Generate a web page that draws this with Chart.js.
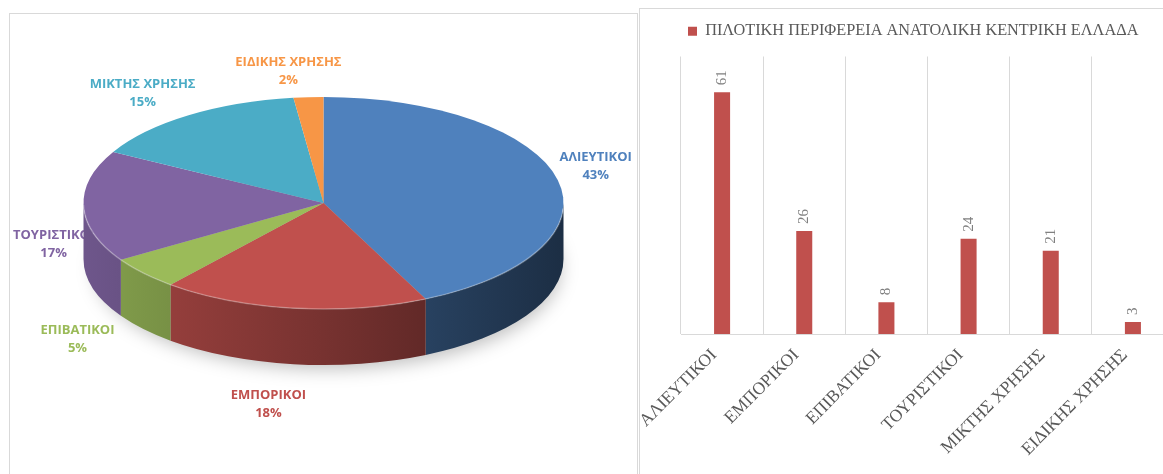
<!DOCTYPE html>
<html>
<head>
<meta charset="utf-8">
<script src="https://cdn.jsdelivr.net/npm/chart.js@4.4.1/dist/chart.umd.min.js"></script>
<style>
  html, body { margin: 0; padding: 0; background: #ffffff; overflow: hidden; }
  #stage { position: relative; width: 1163px; height: 474px; overflow: hidden; background: #ffffff; }
  #stage canvas { position: absolute; }
  .rule { position: absolute; background: #d9d9d9; }
</style>
</head>
<body>
<div id="stage">
  <canvas id="pieChart" width="629" height="460" style="left:9px; top:14px;"></canvas>
  <canvas id="barChart" width="545" height="465" style="left:640px; top:9px;"></canvas>
  <!-- panel frames -->
  <div class="rule" style="left:9px; top:13px; width:629px; height:1px;"></div>
  <div class="rule" style="left:9px; top:13px; width:1px; height:461px;"></div>
  <div class="rule" style="left:637px; top:13px; width:1px; height:461px;"></div>
  <div class="rule" style="left:639px; top:8px; width:524px; height:1px;"></div>
  <div class="rule" style="left:639px; top:8px; width:1px; height:466px;"></div>
</div>

<script>
// ---- data ----
const categories = ['ΑΛΙΕΥΤΙΚΟΙ', 'ΕΜΠΟΡΙΚΟΙ', 'ΕΠΙΒΑΤΙΚΟΙ', 'ΤΟΥΡΙΣΤΙΚΟΙ', 'ΜΙΚΤΗΣ ΧΡΗΣΗΣ', 'ΕΙΔΙΚΗΣ ΧΡΗΣΗΣ'];
const sharePercent = [43, 18, 5, 17, 15, 2];
const pilotRegionCounts = [61, 26, 8, 24, 21, 3];
const seriesName = 'ΠΙΛΟΤΙΚΗ ΠΕΡΙΦΕΡΕΙΑ ΑΝΑΤΟΛΙΚΗ ΚΕΝΤΡΙΚΗ ΕΛΛΑΔΑ';

// ---- styling ----
const sliceColors = ['#4f81bd', '#c0504d', '#9bbb59', '#8064a2', '#4bacc6', '#f79646'];
const barColor = '#c0504d';
const PIE = { rx: 240, ry: 106, depth: 56 };
// label block offsets from the rim point at each slice's mid angle
const pieLabelNudge = [[38, -14], [-25, 96], [-66, 66], [-30, 38], [-46, -22], [-20, -26]];

function shade(hex, f) {
  const n = parseInt(hex.slice(1), 16);
  const r = Math.round(((n >> 16) & 255) * f);
  const g = Math.round(((n >> 8) & 255) * f);
  const b = Math.round((n & 255) * f);
  return 'rgb(' + r + ',' + g + ',' + b + ')';
}

// Tilted pie: rim extrusion, floor shadow and outside labels drawn around the library's arcs.
const pie3d = {
  id: 'pie3d',
  beforeDatasetsDraw(chart) {
    const ctx = chart.ctx;
    const arcs = chart.getDatasetMeta(0).data;
    const { x, y, outerRadius } = arcs[0].getProps(['x', 'y', 'outerRadius'], true);
    const { rx, ry, depth } = PIE;

    // soft floor shadow
    ctx.save();
    ctx.filter = 'blur(9px)';
    ctx.fillStyle = 'rgba(0,0,0,0.26)';
    ctx.beginPath();
    ctx.ellipse(x + 4, y + depth + 9, rx * 0.97, ry * 0.95, 0, 0, Math.PI * 2);
    ctx.fill();
    ctx.restore();

    // outside labels (sit behind the pie body)
    ctx.save();
    ctx.font = 'bold 13px "Open Sans"';
    ctx.textAlign = 'center';
    ctx.textBaseline = 'middle';
    arcs.forEach((arc, i) => {
      const { startAngle, endAngle } = arc.getProps(['startAngle', 'endAngle'], true);
      const mid = (startAngle + endAngle) / 2;
      const lx = x + rx * Math.cos(mid) + pieLabelNudge[i][0];
      const ly = y + ry * Math.sin(mid) + pieLabelNudge[i][1];
      ctx.fillStyle = sliceColors[i];
      ctx.fillText(chart.data.labels[i], lx, ly - 9);
      ctx.fillText(chart.data.datasets[0].data[i] + '%', lx, ly + 9);
    });
    ctx.restore();

    // front rim of every slice
    arcs.forEach((arc, i) => {
      const { startAngle, endAngle } = arc.getProps(['startAngle', 'endAngle'], true);
      const s = Math.max(startAngle, 0);
      const e = Math.min(endAngle, Math.PI);
      if (e <= s) return;
      const grad = ctx.createLinearGradient(x - rx, 0, x + rx, 0);
      grad.addColorStop(0, shade(sliceColors[i], 0.86));
      grad.addColorStop(0.5, shade(sliceColors[i], 0.62));
      grad.addColorStop(1, shade(sliceColors[i], 0.36));
      ctx.save();
      ctx.fillStyle = grad;
      ctx.beginPath();
      ctx.ellipse(x, y, rx, ry, 0, s, e);
      ctx.lineTo(x + rx * Math.cos(e), y + ry * Math.sin(e) + depth);
      ctx.ellipse(x, y + depth, rx, ry, 0, e, s, true);
      ctx.closePath();
      ctx.fill();
      ctx.restore();
    });

    // top face: squash the library's circle into the tilted ellipse
    ctx.save();
    ctx.translate(x, y);
    ctx.scale(rx / outerRadius, ry / outerRadius);
    ctx.translate(-x, -y);
  },
  afterDatasetsDraw(chart) {
    const ctx = chart.ctx;
    ctx.restore();
    const arcs = chart.getDatasetMeta(0).data;
    const { x, y } = arcs[0].getProps(['x', 'y'], true);
    ctx.save();
    ctx.strokeStyle = 'rgba(255,255,255,0.28)';
    ctx.lineWidth = 1.5;
    ctx.beginPath();
    ctx.ellipse(x, y, PIE.rx, PIE.ry, 0, 0.05, Math.PI - 0.02);
    ctx.stroke();
    ctx.restore();
  }
};

new Chart(document.getElementById('pieChart'), {
  type: 'pie',
  data: {
    labels: categories,
    datasets: [{ data: sharePercent, backgroundColor: sliceColors, borderWidth: 0, clip: false }]
  },
  options: {
    responsive: false,
    animation: false,
    events: [],
    layout: { padding: { left: 0, right: 0, top: 20, bottom: 102 } },
    plugins: { legend: { display: false }, tooltip: { enabled: false } }
  },
  plugins: [pie3d]
});

// Vertical value labels above the bars
const barValueLabels = {
  id: 'barValueLabels',
  afterDatasetsDraw(chart) {
    const ctx = chart.ctx;
    const values = chart.data.datasets[0].data;
    ctx.save();
    ctx.fillStyle = '#808080';
    ctx.font = '15px "Liberation Serif"';
    ctx.textAlign = 'left';
    ctx.textBaseline = 'middle';
    chart.getDatasetMeta(0).data.forEach((bar, i) => {
      ctx.save();
      ctx.translate(bar.x, bar.y - 7);
      ctx.rotate(-Math.PI / 2);
      ctx.fillText(String(values[i]), 0, 0);
      ctx.restore();
    });
    ctx.restore();
  }
};

new Chart(document.getElementById('barChart'), {
  type: 'bar',
  data: {
    labels: categories,
    datasets: [{
      label: seriesName,
      data: pilotRegionCounts,
      backgroundColor: barColor,
      borderWidth: 0,
      barPercentage: 0.195,
      categoryPercentage: 1
    }]
  },
  options: {
    responsive: false,
    animation: false,
    events: [],
    layout: { padding: { left: 38, right: 11, top: 4, bottom: 0 } },
    plugins: {
      legend: {
        display: true,
        position: 'top',
        align: 'start',
        labels: {
          boxWidth: 9,
          boxHeight: 9,
          padding: 10,
          color: '#595959',
          font: { family: '"Liberation Serif"', size: 16.3 }
        }
      },
      title: { display: true, text: ' ', weight: 500, font: { size: 1 }, padding: { top: 0, bottom: 6 } },
      tooltip: { enabled: false }
    },
    scales: {
      x: {
        offset: true,
        grid: { color: '#d9d9d9', drawTicks: false, offset: true },
        border: { color: '#d9d9d9' },
        ticks: {
          color: '#595959',
          font: { family: '"Liberation Serif"', size: 17.5 },
          minRotation: 45,
          maxRotation: 45,
          autoSkip: false,
          padding: 11,
          labelOffset: -8
        },
        afterFit(scale) {
          scale.height = 140;
          scale.paddingLeft = 0;
          scale.paddingRight = 0;
        }
      },
      y: {
        display: true,
        min: 0,
        max: 70,
        ticks: { display: false },
        grid: { display: false },
        border: { display: false },
        afterFit(scale) { scale.width = 3; }
      }
    }
  },
  plugins: [barValueLabels]
});
</script>
</body>
</html>
